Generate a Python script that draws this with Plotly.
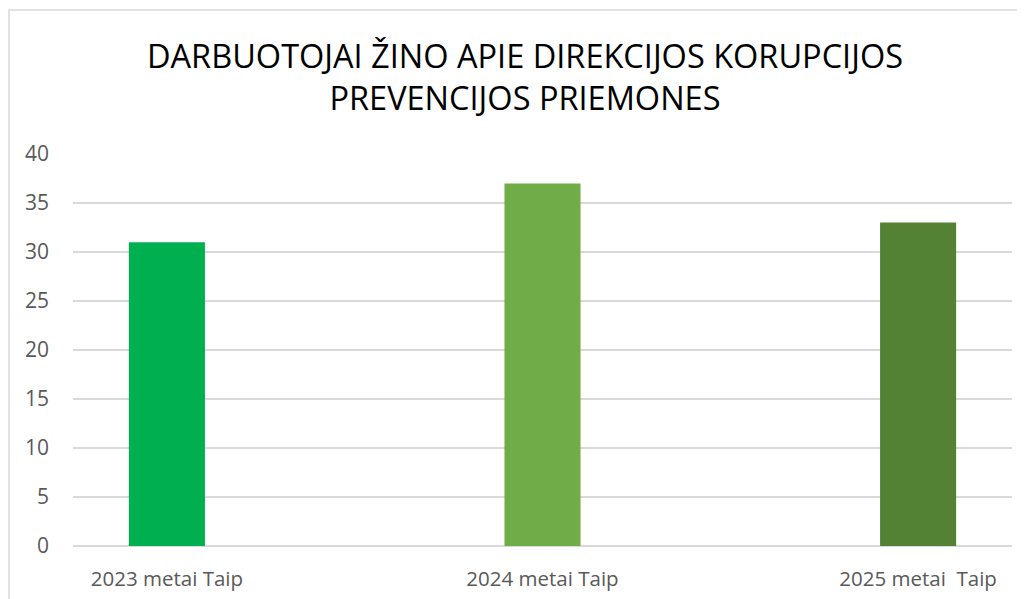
import plotly.graph_objects as go

categories = ["2023 metai Taip", "2024 metai Taip", "2025 metai  Taip"]
values = [31, 37, 33]
colors = ["#00B050", "#70AD47", "#548235"]
title_text = "DARBUOTOJAI ŽINO APIE DIREKCIJOS KORUPCIJOS<br>PREVENCIJOS PRIEMONES"

# categories occupy every second slot (blank slots in between)
xpos = [i * 2 for i in range(len(categories))]

L, T, R, B = 65, 146, 21, 61
W, H = 1025, 599
pw, ph = W - L - R, H - T - B

fig = go.Figure(go.Bar(
    x=xpos, y=values, marker_color=colors, width=0.405,
    marker_line_width=0, hoverinfo="skip"
))

fig.update_layout(
    width=W, height=H,
    margin=dict(l=L, r=R, t=T, b=B),
    paper_bgcolor="white", plot_bgcolor="white",
    showlegend=False,
    title=dict(text=title_text, x=0.5044, xref="container", xanchor="center",
               y=1 - 59.5 / H, yref="container", yanchor="middle",
               font=dict(family="Open Sans", size=32.5, color="#000000")),
    font=dict(family="Open Sans", color="#595959"),
    xaxis=dict(range=[-0.5, 4.5], tickvals=xpos, ticktext=categories,
               showgrid=False, zeroline=False, showline=False, ticks="",
               ticklabelstandoff=18,
               tickfont=dict(size=20.5, color="#595959")),
    yaxis=dict(range=[0, 40], dtick=5, showgrid=True, gridcolor="#D9D9D9",
               gridwidth=1.5, zeroline=True, zerolinecolor="#D9D9D9",
               zerolinewidth=1.5, showline=False, ticks="", ticklabelstandoff=23,
               tickfont=dict(size=21, color="#595959")),
    shapes=[dict(type="rect", xref="paper", yref="paper",
                 x0=(1 - L) / pw, x1=1.1, y0=-0.3, y1=1 + (T - 2) / ph,
                 line=dict(color="#D9D9D9", width=1.5), layer="below")],
)

fig.write_html("out.html")
